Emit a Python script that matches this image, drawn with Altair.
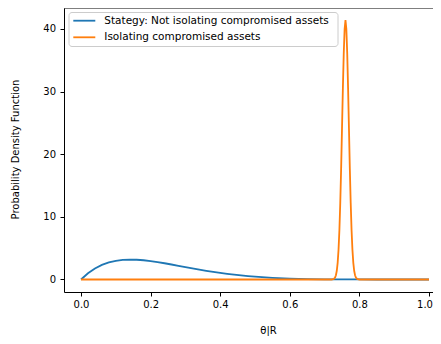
import altair as alt
import pandas as pd

# ---- data ----
series_names = ["Stategy: Not isolating compromised assets", "Isolating compromised assets"]
series_colors = ["#1f77b4", "#ff7f0e"]

blue_x = [0.0, 0.02, 0.04, 0.06, 0.08, 0.10, 0.12, 0.14, 0.16, 0.18, 0.20, 0.22, 0.24,
          0.26, 0.28, 0.30, 0.32, 0.34, 0.36, 0.38, 0.40, 0.42, 0.44, 0.46, 0.48, 0.50,
          0.55, 0.60, 0.65, 0.70, 0.75, 0.80, 0.85, 0.90, 0.95, 1.0]
blue_y = [0.0, 0.99, 1.75, 2.32, 2.72, 2.98, 3.12, 3.17, 3.15, 3.07, 2.94, 2.77, 2.59,
          2.39, 2.18, 1.98, 1.77, 1.58, 1.39, 1.21, 1.05, 0.90, 0.76, 0.64, 0.53, 0.44,
          0.26, 0.14, 0.07, 0.03, 0.01, 0.003, 0.0, 0.0, 0.0, 0.0]

orange_x = [0.0, 0.1, 0.2, 0.3, 0.4, 0.5, 0.6, 0.7, 0.72, 0.725, 0.7275, 0.73, 0.7325,
            0.735, 0.7375, 0.74, 0.7425, 0.745, 0.7475, 0.75, 0.7525, 0.755, 0.7575,
            0.76, 0.7625, 0.765, 0.7675, 0.77, 0.7725, 0.775, 0.7775, 0.78, 0.7825,
            0.785, 0.7875, 0.79, 0.7925, 0.795, 0.80, 0.9, 1.0]
orange_y = [0.0, 0.0, 0.0, 0.0, 0.0, 0.0, 0.0, 0.0, 0.0, 0.05, 0.13, 0.31, 0.68,
            1.39, 2.66, 4.73, 7.86, 12.2, 17.7, 24.1, 30.5, 36.1, 40.0,
            41.4, 40.0, 36.1, 30.5, 24.1, 17.7, 12.2, 7.86, 4.73, 2.66,
            1.39, 0.68, 0.31, 0.13, 0.05, 0.0, 0.0, 0.0]

x_ticks = [0.0, 0.2, 0.4, 0.6, 0.8, 1.0]
y_ticks = [0, 10, 20, 30, 40]

W, H = 369, 284
FONT = "DejaVu Sans"
LW = 1.8

blue_df = pd.DataFrame({"x": blue_x, "y": blue_y, "series": series_names[0]})
orange_df = pd.DataFrame({"x": orange_x, "y": orange_y, "series": series_names[1]})

xscale = alt.Scale(domain=[-0.0489, 1.0115], nice=False, zero=False)
yscale = alt.Scale(domain=[-2.0, 43.35], nice=False, zero=False)
cscale = alt.Scale(domain=series_names, range=series_colors)

xaxis = alt.Axis(values=x_ticks, format=".1f", title="θ|R", grid=False,
                 domainColor="black", domainWidth=1, tickColor="black", tickSize=4,
                 tickWidth=1, labelFont=FONT, labelFontSize=10, labelColor="black",
                 labelPadding=3,
                 labelOffset={"condition": {"test": "datum.value >= 1", "value": -4.5}, "value": 0},
                 titleFont=FONT, titleFontSize=10, titleFontWeight="normal",
                 titleColor="black", titleX=204, titleY=41.5, titleBaseline="alphabetic",
                 titleAlign="center")
yaxis = alt.Axis(values=y_ticks, format="d", title="Probability Density Function", grid=False,
                 domainColor="black", domainWidth=1, tickColor="black", tickSize=4,
                 tickWidth=1, labelFont=FONT, labelFontSize=10, labelColor="black",
                 labelPadding=4.5, titleFont=FONT, titleFontSize=10, titleFontWeight="normal",
                 titleColor="black", titleX=-49, titleY=141, titleAngle=-90,
                 titleBaseline="middle", titleAlign="center")


def line_layer(df):
    return alt.Chart(df).mark_line(strokeWidth=LW).encode(
        x=alt.X("x:Q", scale=xscale, axis=xaxis),
        y=alt.Y("y:Q", scale=yscale, axis=yaxis),
        color=alt.Color("series:N", scale=cscale, legend=None),
    )


layers = [line_layer(blue_df), line_layer(orange_df)]

# top spine
layers.append(alt.Chart(pd.DataFrame({"a": [0]})).mark_rule(color="black", strokeWidth=1).encode(
    x=alt.value(0), x2=alt.value(W), y=alt.value(0)))

# legend box
layers.append(alt.Chart(pd.DataFrame({"a": [0]})).mark_rect(
    fill="white", stroke="#cccccc", strokeWidth=1, cornerRadius=3).encode(
    x=alt.value(5), x2=alt.value(274), y=alt.value(4.5), y2=alt.value(38.5)))

for i, name in enumerate(series_names):
    ly = 12.7 + 16.6 * i
    ldf = pd.DataFrame({"series": [name]})
    layers.append(alt.Chart(ldf).mark_rule(strokeWidth=LW).encode(
        x=alt.value(9.3), x2=alt.value(31.3), y=alt.value(ly),
        color=alt.Color("series:N", scale=cscale, legend=None)))
    layers.append(alt.Chart(ldf).mark_text(
        font=FONT, fontSize=10.5, align="left", baseline="middle", color="black").encode(
        x=alt.value(40.3), y=alt.value(ly), text="series:N"))

chart = alt.layer(*layers).properties(
    width=W, height=H,
    background="white",
    autosize=alt.AutoSizeParams(type="none"),
    padding={"left": 56, "top": 0, "right": 0, "bottom": 44},
).configure_view(strokeWidth=0)

chart.save("out.html", embed_options={"renderer": "svg", "actions": False})
